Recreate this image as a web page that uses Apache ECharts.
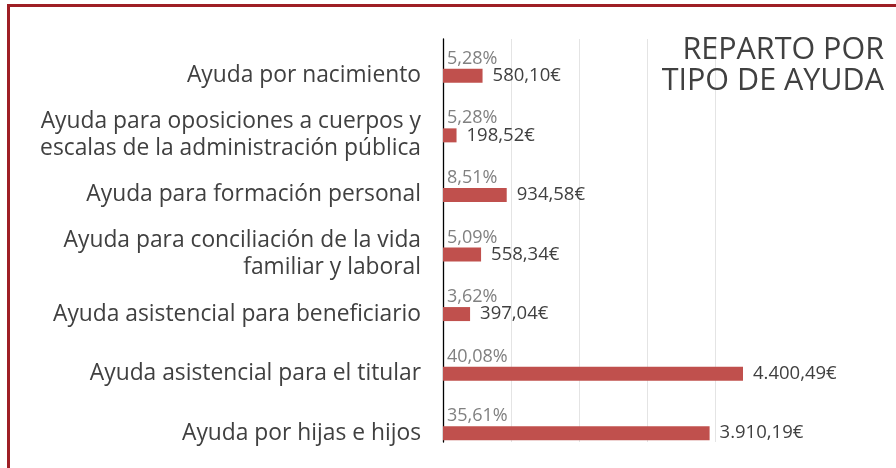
<!DOCTYPE html>
<html>
<head>
<meta charset="utf-8">
<script src="https://cdn.jsdelivr.net/npm/echarts@6/dist/echarts.min.js"></script>
<style>
html,body{margin:0;padding:0;background:#fff;}
#chart{width:896px;height:468px;}
</style>
</head>
<body>
<div id="chart"></div>
<script>
const categories = [
  "Ayuda por nacimiento",
  "Ayuda para oposiciones a cuerpos y\nescalas de la administración pública",
  "Ayuda para formación personal",
  "Ayuda para conciliación de la vida\nfamiliar y laboral",
  "Ayuda asistencial para beneficiario",
  "Ayuda asistencial para el titular",
  "Ayuda por hijas e hijos"
];
const euros = [580.10, 198.52, 934.58, 558.34, 397.04, 4400.49, 3910.19];
const percents = [5.28, 5.28, 8.51, 5.09, 3.62, 40.08, 35.61];
const titleText = "REPARTO POR\nTIPO DE AYUDA";

function fmtEuro(v) {
  const parts = v.toFixed(2).split('.');
  parts[0] = parts[0].replace(/\B(?=(\d{3})+(?!\d))/g, '.');
  return parts[0] + ',' + parts[1] + '€';
}
function fmtPct(v) {
  return v.toFixed(2).replace('.', ',') + '%';
}

const FONT = '"Open Sans", "Liberation Sans", sans-serif';
const chart = echarts.init(document.getElementById('chart'), null, {renderer: 'canvas'});
chart.setOption({
  animation: false,
  backgroundColor: '#ffffff',
  textStyle: {fontFamily: FONT},
  graphic: [{
    type: 'rect',
    silent: true,
    z: -10,
    shape: {x: 8.5, y: 5.5, width: 1200, height: 1000},
    style: {fill: 'none', stroke: '#9E1F25', lineWidth: 3}
  }, {
    type: 'text',
    silent: true,
    x: 884, y: 35,
    z: 10,
    style: {
      text: titleText, align: 'right', verticalAlign: 'top',
      fontFamily: FONT, fontSize: 30.5, fill: '#404040', lineHeight: 31
    }
  }],
  grid: [
    {left: 443, width: 300, top: 39, bottom: 26, containLabel: false},
    {left: 443, width: 300, top: 46, height: 417, containLabel: false}
  ],
  xAxis: [
    {
      gridIndex: 0, type: 'value', min: 0, max: 4400, interval: 1000,
      axisLine: {show: false}, axisTick: {show: false}, axisLabel: {show: false},
      splitLine: {show: true, showMinLine: false, showMaxLine: false, lineStyle: {color: '#e4e4e4', width: 1}}
    },
    {
      gridIndex: 1, type: 'value', min: 0, max: 4400, show: false,
      splitLine: {show: false}
    }
  ],
  yAxis: [
    {
      gridIndex: 0, type: 'category', inverse: true, data: categories,
      axisLine: {show: true, lineStyle: {color: '#000000', width: 1.3}},
      axisTick: {show: false}, axisLabel: {show: false}, splitLine: {show: false}
    },
    {
      gridIndex: 1, type: 'category', inverse: true, data: categories,
      axisLine: {show: false}, axisTick: {show: false}, splitLine: {show: false},
      axisLabel: {show: true, margin: 22, fontSize: 22.8, color: '#404040', lineHeight: 27, fontFamily: FONT, align: 'right'}
    }
  ],
  series: [
    {
      type: 'bar',
      xAxisIndex: 1, yAxisIndex: 1,
      data: euros,
      barWidth: 14,
      itemStyle: {color: '#C0504D'},
      label: {
        show: true, position: 'right', distance: 10,
        fontSize: 18.5, color: '#404040', fontFamily: FONT,
        formatter: p => fmtEuro(p.value)
      }
    },
    {
      type: 'bar',
      xAxisIndex: 1, yAxisIndex: 1,
      data: euros,
      barWidth: 14,
      barGap: '-100%',
      itemStyle: {color: 'rgba(0,0,0,0)'},
      z: 1,
      label: {
        show: true, position: [4, -19],
        fontSize: 18, color: '#808080', fontFamily: FONT,
        formatter: p => fmtPct(percents[p.dataIndex])
      }
    }
  ]
});
</script>
</body>
</html>
